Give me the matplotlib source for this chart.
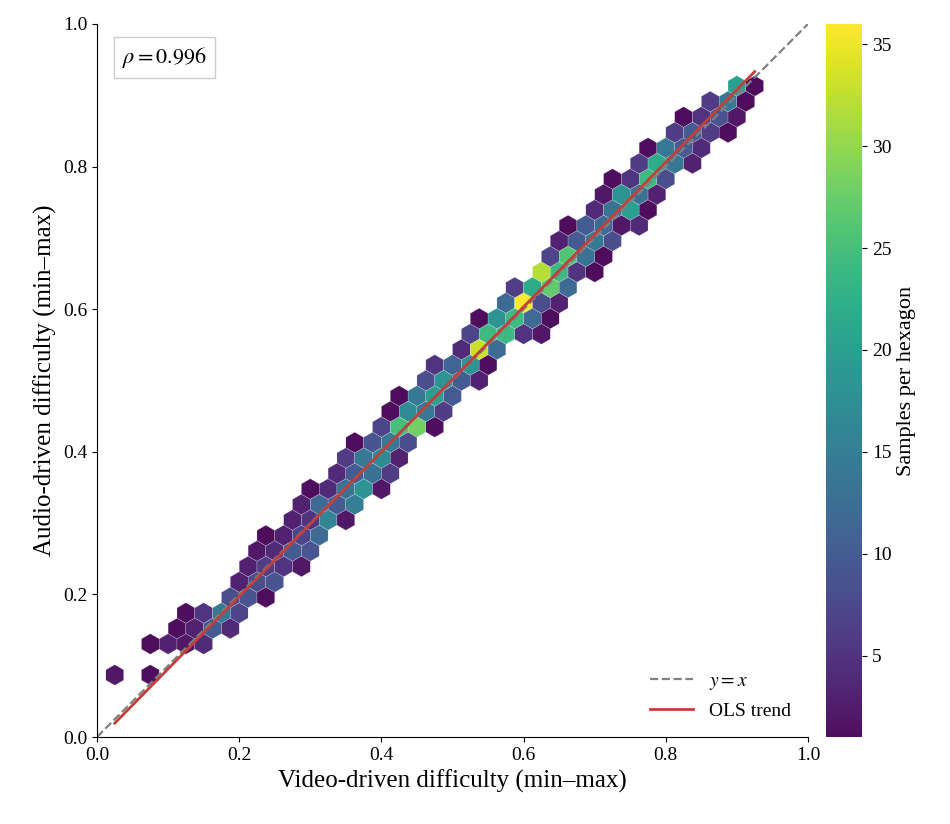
import numpy as np
import matplotlib.pyplot as plt

plt.rcParams['font.family'] = ['Liberation Serif', 'DejaVu Serif']
plt.rcParams['mathtext.fontset'] = 'stix'

# hex rows: (y of row, x of first cell, counts of consecutive cells, 0 = empty)
rows = [
    (0.087, 0.025, [2, 0, 1]),
    (0.130, 0.075, [1, 3, 2, 4]),
    (0.152, 0.1125, [1, 3, 10, 4]),
    (0.174, 0.125, [1, 5, 14, 7]),
    (0.196, 0.1875, [8, 9, 1]),
    (0.217, 0.200, [3, 8, 9]),
    (0.239, 0.2125, [3, 6, 5, 2]),
    (0.261, 0.225, [2, 4, 10, 9]),
    (0.283, 0.2375, [1, 3, 7, 12]),
    (0.304, 0.275, [3, 5, 16, 2]),
    (0.326, 0.2875, [3, 12, 10, 15]),
    (0.348, 0.300, [1, 4, 13, 18, 2]),
    (0.370, 0.3375, [4, 10, 13, 6]),
    (0.391, 0.350, [6, 14, 17, 3]),
    (0.413, 0.3625, [1, 9, 14, 8]),
    (0.435, 0.400, [7, 25, 28, 1]),
    (0.457, 0.4125, [1, 17, 14, 6]),
    (0.478, 0.425, [1, 14, 20, 10]),
    (0.500, 0.4625, [8, 18, 10, 3]),
    (0.522, 0.475, [5, 11, 18, 1]),
    (0.543, 0.5125, [4, 33, 12]),
    (0.565, 0.525, [7, 24, 24, 5, 2]),
    (0.587, 0.5375, [1, 18, 24, 12, 1]),
    (0.609, 0.575, [12, 36, 8, 3]),
    (0.630, 0.5875, [6, 22, 27, 12]),
    (0.652, 0.625, [32, 24, 5, 1]),
    (0.674, 0.6375, [7, 26, 13, 1]),
    (0.696, 0.650, [3, 10, 14, 8]),
    (0.717, 0.6625, [1, 10, 12, 2, 4]),
    (0.739, 0.700, [4, 13, 20, 1]),
    (0.761, 0.7125, [2, 18, 13, 3]),
    (0.783, 0.725, [1, 5, 24, 8]),
    (0.804, 0.7625, [6, 22, 14, 3]),
    (0.826, 0.775, [1, 14, 10, 4]),
    (0.848, 0.8125, [6, 10, 6, 1]),
    (0.870, 0.825, [1, 5, 9, 2]),
    (0.891, 0.8625, [6, 14, 1]),
    (0.913, 0.900, [20, 1]),
]
rho = 0.996

xs, ys, cs = [], [], []
for y, x0, counts in rows:
    for i, c in enumerate(counts):
        if c > 0:
            xs.append(x0 + 0.025 * i)
            ys.append(y)
            cs.append(c)
xs, ys, cs = np.array(xs), np.array(ys), np.array(cs)

fig = plt.figure(figsize=(9.5, 8.24), dpi=100)
ax = fig.add_axes([97 / 950, 87 / 824, 711 / 950, 713 / 824])
cax = fig.add_axes([826 / 950, 87 / 824, 36 / 950, 713 / 824])

hb = ax.hexbin(xs, ys, C=cs, reduce_C_function=np.sum, gridsize=40,
               extent=(0, 1, 0, 1), cmap='viridis', mincnt=1, vmin=1, vmax=36,
               edgecolors='white', linewidths=0.15, alpha=0.95)

ax.plot([0, 1], [0, 1], ls='--', color='grey', lw=1.6, label='$y = x$')
slope, icpt = np.polyfit(np.repeat(xs, cs), np.repeat(ys, cs), 1)
lx = np.array([xs.min(), xs.max()])
ax.plot(lx, slope * lx + icpt, color='#c0413b', lw=2, label='OLS trend')

ax.set_xlim(0, 1)
ax.set_ylim(0, 1)
ax.spines['top'].set_visible(False)
ax.spines['right'].set_visible(False)
ax.tick_params(labelsize=14)
ax.set_xlabel('Video-driven difficulty (min–max)', fontsize=18)
ax.set_ylabel('Audio-driven difficulty (min–max)', fontsize=18)
ax.text(0.035, 0.945, r'$\rho = %.3f$' % rho, transform=ax.transAxes, fontsize=16,
        bbox=dict(boxstyle='square,pad=0.35', facecolor='white', edgecolor='#cccccc'))
ax.legend(loc='lower right', frameon=False, fontsize=14, handlelength=2.2)

cb = fig.colorbar(hb, cax=cax)
cb.outline.set_visible(False)
cb.ax.tick_params(labelsize=14)
cb.set_label('Samples per hexagon', fontsize=16)

fig.savefig('out.png')
